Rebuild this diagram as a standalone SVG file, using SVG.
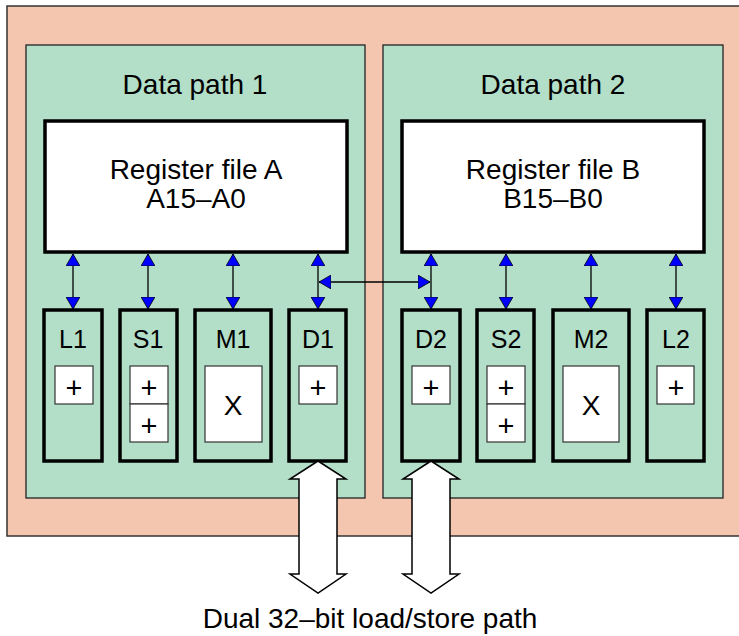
<svg xmlns="http://www.w3.org/2000/svg" width="739" height="636" viewBox="0 0 739 636">
<style>
text{font-family:"Liberation Sans",Arial,sans-serif;fill:#000;text-anchor:middle}
.big{font-size:28px}
.lbl{font-size:25px}
.pl{font-size:29px}
.x{font-size:28px}
.reg{fill:#fff;stroke:#000;stroke-width:3.5}
.unit{fill:#b3dec8;stroke:#000;stroke-width:3.5}
.cell{fill:#fff;stroke:#333;stroke-width:1.2}
.dp{fill:#b3dec8;stroke:#222;stroke-width:1.3}
.conn{stroke:#000;stroke-width:1.3;fill:none}
.blk{fill:#fff;stroke:#000;stroke-width:1.5}
</style>
<defs>
<marker id="ah" viewBox="0 0 12 14" refX="12" refY="7" markerWidth="12" markerHeight="14" markerUnits="userSpaceOnUse" orient="auto-start-reverse">
<path d="M0,0 L12,7 L0,14 Z" fill="#0000ff" stroke="#000" stroke-width="0.8"/>
</marker>
</defs>
<rect x="7" y="6" width="740" height="530" fill="#f4c6b0" stroke="#333" stroke-width="1.5"/>
<g id="datapath1"><rect class="dp" x="26" y="45" width="339" height="453"/><text class="big" x="195" y="94">Data path 1</text></g>
<g id="datapath2"><rect class="dp" x="383" y="45" width="340" height="453"/><text class="big" x="553" y="94">Data path 2</text></g>
<g id="regA"><rect class="reg" x="45" y="121" width="302" height="131"/><text class="big" x="196" y="179">Register file A</text><text class="big" x="196" y="208">A15–A0</text></g>
<g id="regB"><rect class="reg" x="402" y="121" width="302" height="131"/><text class="big" x="553" y="179">Register file B</text><text class="big" x="553" y="208">B15–B0</text></g>
<g id="L1"><rect class="unit" x="44" y="310" width="58" height="151"/><text class="lbl" x="73" y="348">L1</text><rect class="cell" x="55" y="366" width="38" height="38"/><text class="pl" x="74" y="398">+</text></g>
<g id="S1"><rect class="unit" x="120" y="310" width="57" height="151"/><text class="lbl" x="148" y="348">S1</text><rect class="cell" x="130" y="366" width="38" height="38"/><text class="pl" x="149" y="398">+</text><rect class="cell" x="130" y="404" width="38" height="38"/><text class="pl" x="149" y="436">+</text></g>
<g id="M1"><rect class="unit" x="195" y="310" width="76" height="151"/><text class="lbl" x="233" y="348">M1</text><rect class="cell" x="205" y="366" width="57" height="76"/><text class="x" x="233" y="415">X</text></g>
<g id="D1"><rect class="unit" x="289" y="310" width="57" height="151"/><text class="lbl" x="318" y="348">D1</text><rect class="cell" x="299" y="366" width="38" height="38"/><text class="pl" x="318" y="398">+</text></g>
<g id="D2"><rect class="unit" x="402" y="310" width="58" height="151"/><text class="lbl" x="431" y="348">D2</text><rect class="cell" x="412" y="366" width="38" height="38"/><text class="pl" x="431" y="398">+</text></g>
<g id="S2"><rect class="unit" x="477" y="310" width="57" height="151"/><text class="lbl" x="506" y="348">S2</text><rect class="cell" x="487" y="366" width="38" height="38"/><text class="pl" x="506" y="398">+</text><rect class="cell" x="487" y="404" width="38" height="38"/><text class="pl" x="506" y="436">+</text></g>
<g id="M2"><rect class="unit" x="553" y="310" width="76" height="151"/><text class="lbl" x="591" y="348">M2</text><rect class="cell" x="563" y="366" width="56" height="76"/><text class="x" x="591" y="415">X</text></g>
<g id="L2"><rect class="unit" x="647" y="310" width="57" height="151"/><text class="lbl" x="676" y="348">L2</text><rect class="cell" x="657" y="366" width="37" height="38"/><text class="pl" x="676" y="398">+</text></g>
<g id="connectors">
<line class="conn" x1="73" y1="254" x2="73" y2="309" marker-start="url(#ah)" marker-end="url(#ah)"/>
<line class="conn" x1="148" y1="254" x2="148" y2="309" marker-start="url(#ah)" marker-end="url(#ah)"/>
<line class="conn" x1="233" y1="254" x2="233" y2="309" marker-start="url(#ah)" marker-end="url(#ah)"/>
<line class="conn" x1="318" y1="254" x2="318" y2="309" marker-start="url(#ah)" marker-end="url(#ah)"/>
<line class="conn" x1="431" y1="254" x2="431" y2="309" marker-start="url(#ah)" marker-end="url(#ah)"/>
<line class="conn" x1="506" y1="254" x2="506" y2="309" marker-start="url(#ah)" marker-end="url(#ah)"/>
<line class="conn" x1="591" y1="254" x2="591" y2="309" marker-start="url(#ah)" marker-end="url(#ah)"/>
<line class="conn" x1="676" y1="254" x2="676" y2="309" marker-start="url(#ah)" marker-end="url(#ah)"/>
<line class="conn" x1="319" y1="282" x2="430" y2="282" marker-start="url(#ah)" marker-end="url(#ah)"/>
<path class="blk" d="M318,461 L346,479 L337,479 L337,574 L346,574 L318,593 L290,574 L299,574 L299,479 L290,479 Z"/>
<path class="blk" d="M431,461 L459,479 L450,479 L450,574 L459,574 L431,593 L403,574 L412,574 L412,479 L403,479 Z"/>
</g>
<text class="big" x="370" y="628">Dual 32–bit load/store path</text>
</svg>
